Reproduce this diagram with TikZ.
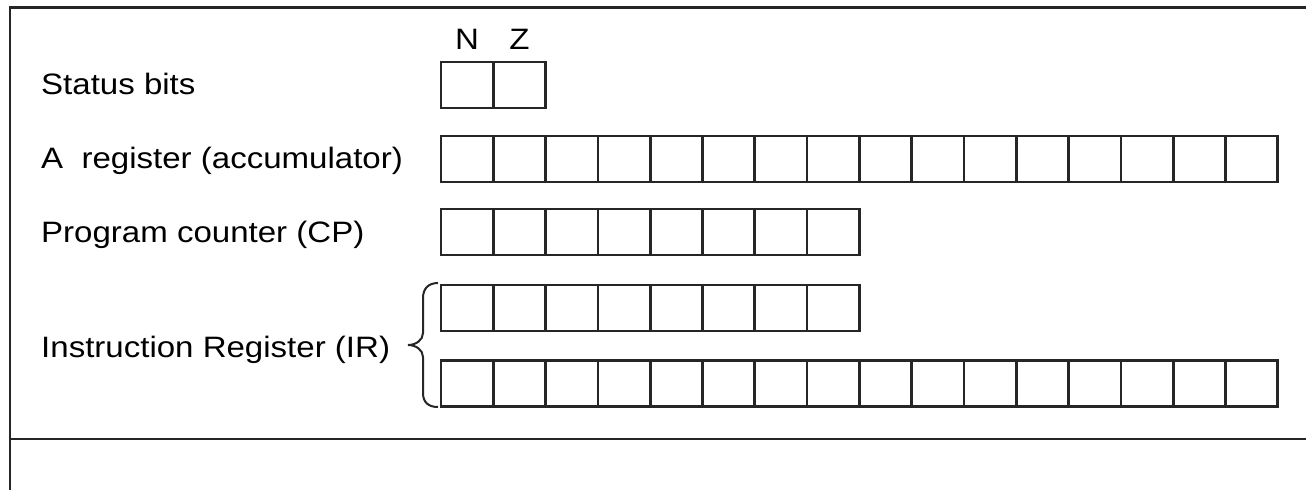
\documentclass[tikz,border=0pt]{standalone}
\usepackage{fontspec}
\setmainfont{Liberation Sans}[FakeStretch=1.12]
\begin{document}
\begin{tikzpicture}[x=1pt,y=-1pt,
  cell/.style={draw=black!85, line width=2.7pt, minimum width=52.3pt, minimum height=46pt, inner sep=0pt, outer sep=0pt},
  lbl/.style={anchor=base west, inner sep=0pt, font=\fontsize{29.5}{35}\selectfont},
  bitlbl/.style={anchor=base, inner sep=0pt, font=\fontsize{29.5}{35}\selectfont},
  frame/.style={draw=black!85, line width=2.8pt}]
\useasboundingbox (0,0) rectangle (1306,490);
% frame
\coordinate (ftl) at (10,7.5);
\coordinate (ftr) at (1306,7.5);
\coordinate (fbl) at (10,490);
\coordinate (fml) at (10,439);
\coordinate (fmr) at (1306,439);
\draw[frame] (ftr) -- (ftl) -- (fbl);
\draw[frame] (fml) -- (fmr);
% registers
\foreach \i in {0,1} \node[cell] (s\i) at ({441+52.3*(\i+0.5)},85) {};
\foreach \i in {0,...,15} \node[cell] (a\i) at ({441+52.3*(\i+0.5)},159) {};
\foreach \i in {0,...,7} \node[cell] (p\i) at ({441+52.3*(\i+0.5)},232) {};
\foreach \i in {0,...,7} \node[cell] (i\i) at ({441+52.3*(\i+0.5)},308) {};
\foreach \i in {0,...,15} \node[cell] (j\i) at ({441+52.3*(\i+0.5)},383.5) {};
% bit labels
\node[bitlbl] (nlab) at (s0.center |- 0,49) {N};
\node[bitlbl] (zlab) at (s1.center |- 0,49) {Z};
% register labels
\node[lbl] (tstat) at (41,94.5) {Status bits};
\node[lbl] (tacc) at (41,168) {A\ \ register (accumulator)};
\node[lbl] (tpc) at (41,242) {Program counter (CP)};
\node[lbl] (tir) at (41,357) {Instruction Register (IR)};
% brace
\draw[black!85, line width=2pt]
  (438,283) .. controls (428,283) and (423,289) .. (423,298) -- (423,333)
  .. controls (423,340) and (416,345) .. (408,345)
  .. controls (416,345) and (423,350) .. (423,357) -- (423,393)
  .. controls (423,402) and (428,407) .. (438,407);
\end{tikzpicture}
\end{document}
